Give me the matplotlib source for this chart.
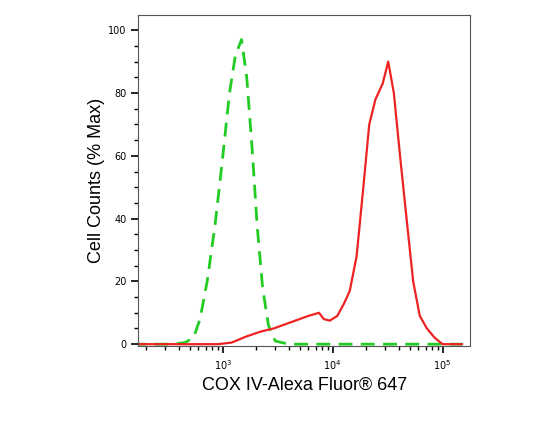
import matplotlib
matplotlib.use("Agg")
import matplotlib.pyplot as plt
import numpy as np
from matplotlib.ticker import LogLocator, NullFormatter, MultipleLocator

green_x = [150, 350, 450, 540, 620, 720, 850, 1000, 1150, 1300, 1480, 1650, 1850, 2050, 2300, 2600, 3000, 4000, 10000, 50000, 150000]
green_y = [0, 0, 0.5, 2, 8, 20, 38, 60, 80, 92, 97, 85, 62, 38, 18, 6, 1, 0, 0, 0, 0]
red_x = [150, 900, 1200, 1650, 2200, 2900, 3800, 5000, 6000, 7500, 8300, 9400, 11000, 12700, 14300, 16500, 19000, 21500, 24500, 28500, 32000, 36000, 41000, 47000, 54000, 62000, 72000, 85000, 100000, 150000]
red_y = [0, 0, 0.5, 2.5, 4, 5, 6.5, 8, 9, 10, 8, 7.5, 9, 13, 17, 28, 50, 70, 78, 83, 90, 80, 60, 40, 20, 9, 5, 2, 0, 0]

fig = plt.figure(figsize=(5.53, 4.21), dpi=100)
ax = fig.add_axes([0.25, 0.178, 0.6, 0.786])
ax.plot(green_x, green_y, color="#22cc22", lw=2, ls=(0, (5, 3)))
ax.plot(red_x, red_y, color="#ee2222", lw=1.6)
ax.set_xscale("log")
ax.set_xlim(10**2.23, 10**5.25)
ax.set_ylim(-0.6, 104.8)
ax.xaxis.set_minor_locator(LogLocator(base=10, subs=np.arange(2, 10), numticks=20))
ax.xaxis.set_minor_formatter(NullFormatter())
ax.set_xticks([1e3, 1e4, 1e5])
ax.set_xticklabels([r"$10^3$", r"$10^4$", r"$10^5$"])
ax.yaxis.set_major_locator(MultipleLocator(20))
ax.yaxis.set_minor_locator(MultipleLocator(5))
ax.tick_params(labelsize=7, width=1.2, length=5)
ax.tick_params(which="minor", length=3, width=1)
for s in ax.spines.values():
    s.set_linewidth(0.8)
    s.set_color("#555555")
ax.set_ylabel("Cell Counts (% Max)", fontsize=13, family="Liberation Sans", labelpad=2)
ax.set_xlabel("COX IV-Alexa Fluor® 647", fontsize=13, family="Liberation Sans")
fig.savefig("out.png", dpi=100)
